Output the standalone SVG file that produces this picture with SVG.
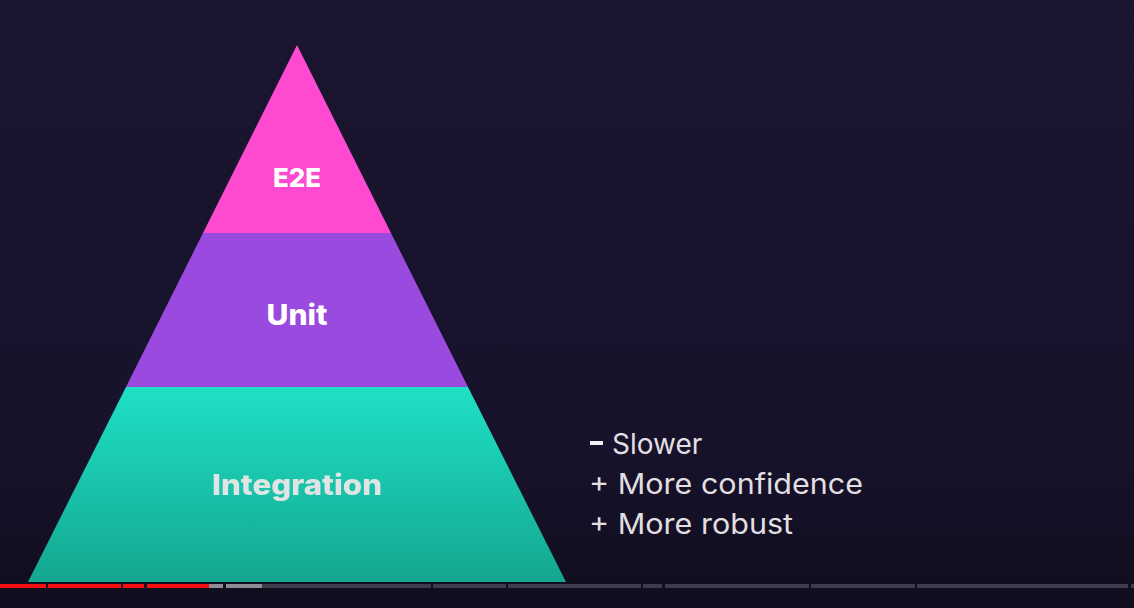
<svg xmlns="http://www.w3.org/2000/svg" width="1134" height="608" viewBox="0 0 1134 608">
  <defs>
    <linearGradient id="bg" x1="0" y1="0" x2="0" y2="1">
      <stop offset="0" stop-color="#1b1531"/>
      <stop offset="0.75" stop-color="#17122a"/>
      <stop offset="1" stop-color="#100d1e"/>
    </linearGradient>
    <linearGradient id="teal" x1="0" y1="0" x2="0" y2="1">
      <stop offset="0" stop-color="#1fe0c6"/>
      <stop offset="1" stop-color="#14a78f"/>
    </linearGradient>
    <filter id="soft" x="-5%" y="-20%" width="110%" height="140%">
      <feGaussianBlur stdDeviation="0.7"/>
    </filter>
    <style>
      .tier { font-family: Inter, "Noto Sans", sans-serif; font-weight: 800; text-anchor: middle; }
      .note { font-family: Inter, "Noto Sans", sans-serif; font-weight: 400; font-size: 28px; fill: #e2dfe3; }
      .played { fill: #f50e0e; }
      .buffered { fill: #8e8b95; }
      .rest { fill: #3f3a4c; }
    </style>
  </defs>

  <rect width="1134" height="608" fill="url(#bg)"/>

  <!-- pyramid tiers -->
  <g id="tier-e2e">
    <polygon points="297,45 391,233 203,233" fill="#fd4ad0"/>
    <text class="tier" x="297" y="187" font-size="26" fill="#ffffff" textLength="48" lengthAdjust="spacingAndGlyphs">E2E</text>
  </g>
  <g id="tier-unit">
    <polygon points="203,233 391,233 468,387 126,387" fill="#9a4ade"/>
    <text class="tier" x="297" y="325" font-size="28" fill="#ffffff" textLength="61" lengthAdjust="spacingAndGlyphs">Unit</text>
  </g>
  <g id="tier-integration">
    <polygon points="126,387 468,387 566,582 28,582" fill="url(#teal)"/>
    <text class="tier" x="297" y="495" font-size="28" fill="#dfe5e5" filter="url(#soft)" textLength="170" lengthAdjust="spacingAndGlyphs">Integration</text>
  </g>

  <!-- trade-off notes -->
  <g id="notes">
    <rect x="590" y="441" width="13" height="4" fill="#f2f0f2"/>
    <text class="note" x="612" y="454">Slower</text>
    <text class="note" x="589" y="494" textLength="274" lengthAdjust="spacingAndGlyphs">+ More confidence</text>
    <text class="note" x="589" y="534" textLength="204" lengthAdjust="spacingAndGlyphs">+ More robust</text>
  </g>

  <!-- playback progress bar -->
  <g id="progress">
    <rect class="played" x="0" y="584" width="46" height="4"/>
    <rect class="played" x="48" y="584" width="73" height="4"/>
    <rect class="played" x="123" y="584" width="21" height="4"/>
    <rect class="played" x="147" y="584" width="62" height="4"/>
    <rect class="buffered" x="209" y="584" width="14" height="4"/>
    <rect class="buffered" x="226" y="584" width="36" height="4"/>
    <rect class="rest" x="262" y="584" width="169" height="4"/>
    <rect class="rest" x="433" y="584" width="73" height="4"/>
    <rect class="rest" x="508" y="584" width="133" height="4"/>
    <rect class="rest" x="643" y="584" width="19" height="4"/>
    <rect class="rest" x="665" y="584" width="144" height="4"/>
    <rect class="rest" x="811" y="584" width="104" height="4"/>
    <rect class="rest" x="917" y="584" width="211" height="4"/>
    <rect class="rest" x="1131" y="584" width="3" height="4"/>
  </g>
</svg>
